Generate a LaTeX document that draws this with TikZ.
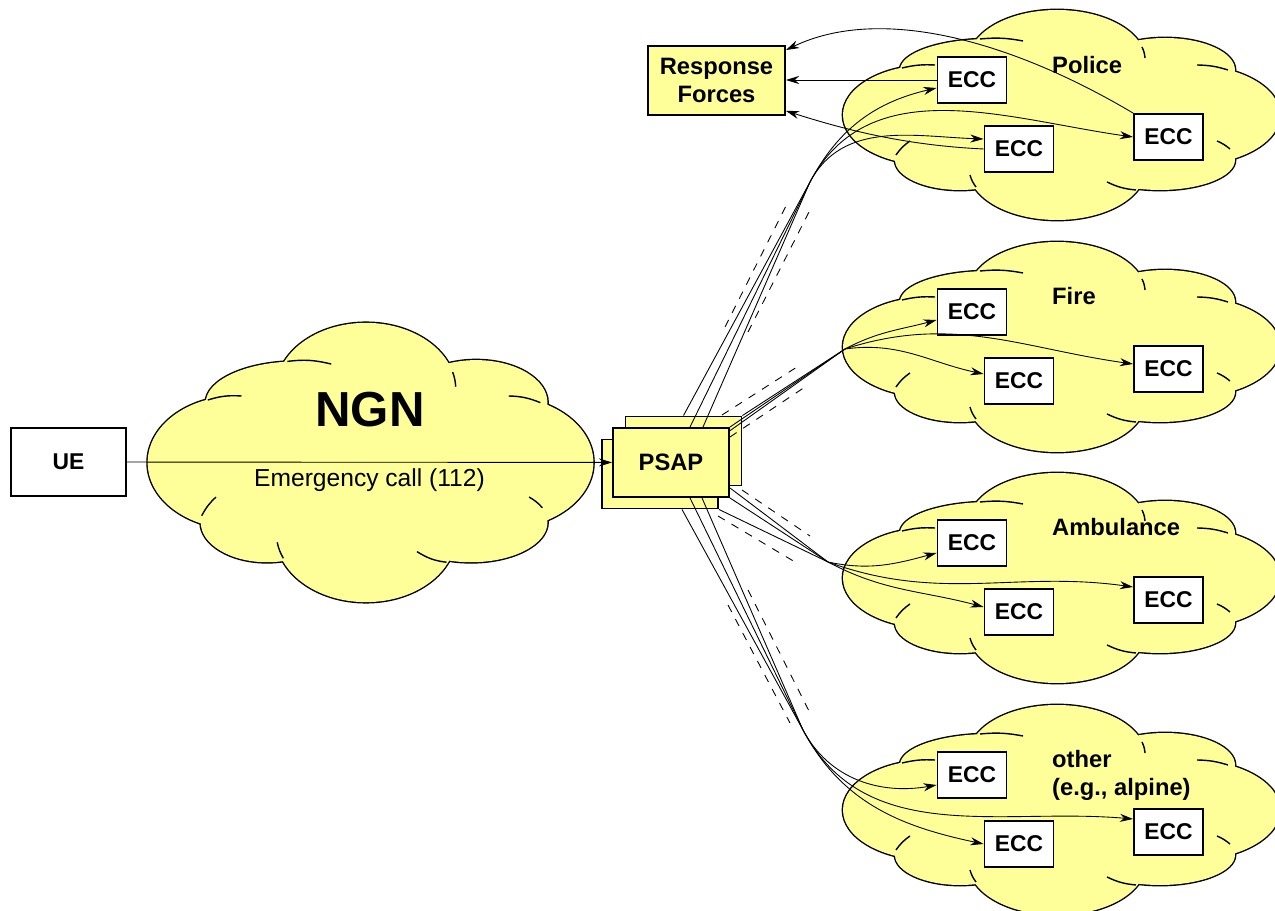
\documentclass[tikz,border=0pt]{standalone}
\usepackage{fontspec}
\setmainfont{Liberation Sans}
\usetikzlibrary{arrows.meta}
\definecolor{cloudyellow}{RGB}{255,255,153}
\pgfdeclarelayer{front}
\pgfsetlayers{main,front}
\tikzstyle{whitebox} = [draw, fill=white, line width=1.1pt,
font=\bfseries\fontsize{13}{15}\selectfont]
\tikzstyle{ecc} = [whitebox, minimum width=1.38cm, minimum height=0.92cm]
\tikzstyle{psapbox} = [draw, fill=cloudyellow, line width=1.1pt,
minimum width=2.32cm, minimum height=1.38cm, font=\bfseries\fontsize{13.5}{16}\selectfont]
\tikzstyle{cloudlabel} = [anchor=west, align=left, font=\bfseries\fontsize{13.5}{15.5}\selectfont]
\tikzstyle{bundle} = [line width=0.5pt]
\tikzstyle{sleeve} = [line width=0.5pt, dash pattern=on 4.5pt off 4.5pt]
\tikzset{
  cloudpic/.pic={
    \foreach \cx/\cy/\rx/\ry in {-130/0/87/50, 130/0/90/50, 0/0/160/62, -70/45/90/31, -3/55/88/50,
                                 105/45/70/32, 100/-45/75/30, -3/-55/88/50, -100/-45/65/30}
      \draw[line width=1.6pt] (\cx,\cy) ellipse [x radius=\rx, y radius=\ry];
    \foreach \cx/\cy/\rx/\ry in {-130/0/87/50, 130/0/90/50, 0/0/160/62, -70/45/90/31, -3/55/88/50,
                                 105/45/70/32, 100/-45/75/30, -3/-55/88/50, -100/-45/65/30}
      \fill[cloudyellow] (\cx,\cy) ellipse [x radius=\rx, y radius=\ry];
    % the little strokes inside
    \draw[line width=0.8pt] (-158,47) to[bend left=8] (-125,50)
      (-80,76) to[bend left=8] (-37,74)
      (82,68) to[bend left=10] (85,57)
      (168,45) to[bend right=8] (137,50)
      (170,-34) to[bend right=8] (157,-26)
      (47,-67) to[bend right=10] (76,-75)
      (-84,-72) to[bend left=10] (-90,-60)
      (-164,-40) to[bend left=10] (-150,-26);
  }
}

\begin{document}
\begin{tikzpicture}[x=0.02cm, y=0.02cm, >={Stealth[length=7.5pt,width=4.6pt]}]
\useasboundingbox (0,0) rectangle (1275,-911);

\pic[xscale=1.02, yscale=1.33] at (369,-462.5) {cloudpic};
\foreach \nm/\cy in {P/-115, F/-347, A/-578, O/-810}{
  \pic at (1060,\cy) {cloudpic};
  \node[ecc] (ecc\nm a) at (972,\cy+35) {ECC};
  \node[ecc] (ecc\nm b) at (1019,\cy-34) {ECC};
  \node[ecc] (ecc\nm c) at (1168.5,\cy-22) {ECC};
}

\node[cloudlabel] (police) at (1046,-65) {Police};
\node[cloudlabel] (fire) at (1046,-296) {Fire};
\node[cloudlabel] (ambulance) at (1046,-527) {Ambulance};
\node[cloudlabel] (other) at (1046,-775.5) {other\\(e.g., alpine)};

\node[font=\bfseries\fontsize{28}{32}\selectfont] (ngn) at (370,-410) {NGN};
\node[whitebox, minimum width=2.3cm, minimum height=1.36cm] (ue) at (68.5,-462) {UE};
\node[psapbox, align=center, minimum width=2.74cm] (rf) at (716.5,-80.5) {Response\\Forces};

\node[psapbox] (psapA) at (683.5,-451) {};
\node[psapbox] (psapB) at (660,-474) {};
\begin{pgfonlayer}{front}
\node[psapbox] (psap) at (671,-462.5) {PSAP};
\end{pgfonlayer}

\draw[->, bundle] (ue) -- node[below=0pt, font=\fontsize{14}{16}\selectfont] (call) {Emergency call (112)} (psap);

\coordinate (jP) at (810,-182);
\coordinate (jF) at (845,-349);
\coordinate (jA) at (828,-562);
\coordinate (jO) at (803,-730);

% police
\draw[->, bundle] (psapA.north) -- (jP) to[out=62,in=193] ([yshift=-0.16cm]eccPa.west);
\draw[->, bundle] ([xshift=0.38cm]psap.north) -- (jP) to[out=62,in=172] (eccPc.west);
\draw[->, bundle] ([xshift=0.64cm]psap.north) -- (jP) to[out=62,in=178] ([yshift=0.2cm]eccPb.west);
% fire
\draw[->, bundle] (psapA.north east) -- (jF) to[out=28,in=195] ([yshift=-0.16cm]eccFa.west);
\draw[->, bundle] (psap.north east) -- (jF) to[out=18,in=172] ([yshift=0.1cm]eccFc.west);
\draw[->, bundle] (psapB.north east) -- (jF) to[out=8,in=168] ([yshift=0.14cm]eccFb.west);
% ambulance
\draw[->, bundle] ([yshift=0.2cm]psap.south east) -- (jA) to[out=-12,in=195] ([yshift=-0.2cm]eccAa.west);
\draw[->, bundle] (psap.south east) -- (jA) to[out=-20,in=172] ([yshift=0.26cm]eccAc.west);
\draw[->, bundle] (psapB.south east) -- (jA) to[out=-28,in=165] ([yshift=0.1cm]eccAb.west);
% other
\draw[->, bundle] ([xshift=0.44cm]psapB.south) -- (jO) to[out=-62,in=190] ([yshift=-0.2cm]eccOa.west);
\draw[->, bundle] ([xshift=0.38cm]psap.south) -- (jO) to[out=-62,in=175] ([yshift=0.26cm]eccOc.west);
\draw[->, bundle] ([xshift=0.62cm]psap.south) -- (jO) to[out=-62,in=168] (eccOb.west);

\draw[sleeve] (725,-327) -- (788,-202) (748,-332) -- (809,-212)
  (722,-415) -- (797,-367) (730,-437) -- (805,-387)
  (742,-490) -- (810,-536) (718,-516) -- (795,-562)
  (728,-605) -- (790,-723) (748,-590) -- (810,-713);

% back to the response forces
\draw[->, bundle] (eccPa.west) -- (eccPa.west -| rf.east);
\draw[->, bundle] (eccPc.north west) .. controls (1010,-40) and (880,-5) .. ([yshift=-0.1cm]rf.north east);
\draw[->, bundle] (eccPb.west) .. controls (900,-145) and (840,-128) .. ([yshift=0.1cm]rf.south east);
\end{tikzpicture}
\end{document}
